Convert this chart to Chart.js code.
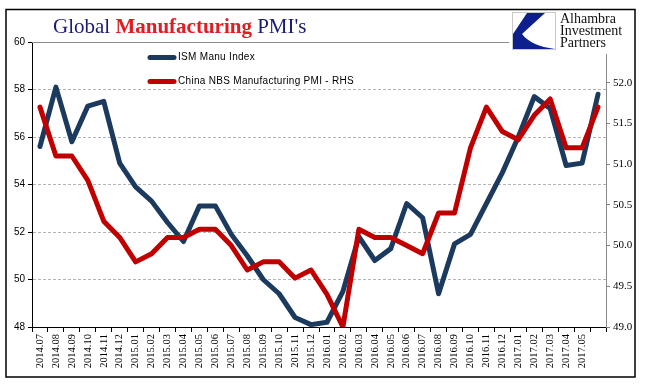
<!DOCTYPE html>
<html><head><meta charset="utf-8">
<script src="https://cdn.jsdelivr.net/npm/chart.js@4"></script>
<style>html,body{margin:0;padding:0;background:#fff;} #wrap{width:646px;height:392px;position:relative;}</style>
</head><body><div id="wrap"><canvas id="c" width="646" height="392"></canvas></div>
<script>
const categories = ['2014.07','2014.08','2014.09','2014.10','2014.11','2014.12',
  '2015.01','2015.02','2015.03','2015.04','2015.05','2015.06','2015.07','2015.08','2015.09','2015.10','2015.11','2015.12',
  '2016.01','2016.02','2016.03','2016.04','2016.05','2016.06','2016.07','2016.08','2016.09','2016.10','2016.11','2016.12',
  '2017.01','2017.02','2017.03','2017.04','2017.05','2017.06'];
const tickLabels = categories.slice(0, 35);
const ismValues = [55.6, 58.1, 55.8, 57.3, 57.5, 54.9, 53.9, 53.3, 52.4, 51.6, 53.1, 53.1,
  51.9, 51.0, 50.0, 49.4, 48.4, 48.1, 48.2, 49.5, 51.8, 50.8, 51.3, 53.2,
  52.6, 49.4, 51.5, 51.9, 53.2, 54.5, 56.0, 57.7, 57.2, 54.8, 54.9, 57.8];
const chinaValues = [51.7, 51.1, 51.1, 50.8, 50.3, 50.1, 49.8, 49.9, 50.1, 50.1, 50.2, 50.2,
  50.0, 49.7, 49.8, 49.8, 49.6, 49.7, 49.4, 49.0, 50.2, 50.1, 50.1, 50.0,
  49.9, 50.4, 50.4, 51.2, 51.7, 51.4, 51.3, 51.6, 51.8, 51.2, 51.2, 51.7];
const seriesNames = ['ISM Manu Index', 'China NBS Manufacturing PMI - RHS'];
const titleParts = [['Global ', false], ['Manufacturing', true], [' PMI\'s', false]];
const logoLines = ['Alhambra', 'Investment', 'Partners'];

const NAVY = '#1b3a5e', RED = '#c00000';

const decor = {
  id: 'decor',
  beforeDraw(chart) {
    const ctx = chart.ctx;
    ctx.save(); ctx.fillStyle = '#fff'; ctx.fillRect(0, 0, chart.width, chart.height); ctx.restore();
  },
  afterDraw(chart) {
    const ctx = chart.ctx, a = chart.chartArea;
    ctx.save();
    // top plot line
    ctx.strokeStyle = '#8c8c8c'; ctx.lineWidth = 1;
    ctx.beginPath(); ctx.moveTo(a.left, Math.round(a.top) + 0.5); ctx.lineTo(a.right, Math.round(a.top) + 0.5); ctx.stroke();
    // legend
    const ly = [57.5, 81.5];
    chart.data.datasets.forEach((ds, i) => {
      ctx.strokeStyle = ds.borderColor; ctx.lineWidth = 5; ctx.lineCap = 'round';
      ctx.beginPath(); ctx.moveTo(150, ly[i]); ctx.lineTo(174, ly[i]); ctx.stroke();
      ctx.fillStyle = '#000'; ctx.font = '10px "Liberation Sans"'; ctx.textBaseline = 'middle';
      try { ctx.letterSpacing = '0.3px'; } catch (e) {}
      ctx.fillText(ds.label, 178, ly[i]);
      try { ctx.letterSpacing = '0px'; } catch (e) {}
    });
    // title
    let x = 53;
    ctx.textBaseline = 'alphabetic';
    titleParts.forEach(([t, bold]) => {
      ctx.font = (bold ? 'bold ' : '') + '21px "Liberation Serif"';
      ctx.fillStyle = bold ? '#e31c23' : '#1a1a78';
      ctx.fillText(t, x, 33);
      x += ctx.measureText(t).width;
    });
    // logo
    ctx.fillStyle = '#fff'; ctx.fillRect(509, 11, 125, 43);
    ctx.strokeStyle = '#c8c8c8'; ctx.lineWidth = 1; ctx.strokeRect(512.5, 12.5, 43, 37);
    ctx.fillStyle = '#0d1f8c';
    ctx.beginPath();
    ctx.moveTo(527, 13); ctx.lineTo(545, 13); ctx.lineTo(522, 34);
    ctx.quadraticCurveTo(531, 46, 555, 49); ctx.lineTo(513, 49); ctx.lineTo(513, 34);
    ctx.closePath(); ctx.fill();
    ctx.fillStyle = '#111'; ctx.font = '14px "Liberation Serif"';
    logoLines.forEach((t, i) => ctx.fillText(t, 560, 23 + i * 12));
    // outer border
    ctx.strokeStyle = '#000'; ctx.lineWidth = 1.5;
    ctx.strokeRect(6, 9.5, 629, 367.5);
    ctx.restore();
  }
};

new Chart(document.getElementById('c'), {
  type: 'line',
  data: {
    labels: categories,
    datasets: [
      { label: seriesNames[0], data: ismValues, yAxisID: 'y', borderColor: NAVY, backgroundColor: NAVY,
        borderWidth: 5, pointRadius: 0, tension: 0, borderJoinStyle: 'round', borderCapStyle: 'round', order: 1 },
      { label: seriesNames[1], data: chinaValues, yAxisID: 'y2', borderColor: RED, backgroundColor: RED,
        borderWidth: 5, pointRadius: 0, tension: 0, borderJoinStyle: 'round', borderCapStyle: 'round', order: 0 }
    ]
  },
  options: {
    responsive: false, animation: false, devicePixelRatio: 1,
    layout: { padding: { top: 42, left: 0, right: 0, bottom: 0 } },
    plugins: { legend: { display: false }, tooltip: { enabled: false } },
    scales: {
      x: {
        offset: true,
        afterFit: s => { s.height = 65; },
        grid: { offset: true, drawOnChartArea: false, drawTicks: true, tickLength: 5, color: '#000', tickColor: '#000' },
        border: { color: '#000', width: 1 },
        ticks: { autoSkip: false, maxRotation: 90, minRotation: 90, padding: 2, color: '#000',
          font: { family: 'Liberation Serif', size: 10.5 },
          callback: (v, i) => tickLabels[i] !== undefined ? tickLabels[i] : '' }
      },
      y: {
        position: 'left', min: 48, max: 60,
        afterFit: s => { s.width = 32; },
        grid: { color: c => (c.tick && (c.tick.value === 48 || c.tick.value === 60)) ? 'rgba(0,0,0,0)' : '#b4b4b4',
          lineWidth: 1, tickLength: 4, tickColor: '#000' },
        border: { color: '#000', width: 1, dash: [3, 2] },
        ticks: { stepSize: 2, padding: 3, color: '#000', font: { family: 'Liberation Sans', size: 10 } }
      },
      y2: {
        position: 'right', min: 49, max: 52.5,
        afterFit: s => { s.width = 40; },
        grid: { drawOnChartArea: false, tickLength: 4, color: '#888', tickColor: '#888' },
        border: { color: '#888', width: 1 },
        ticks: { stepSize: 0.5, padding: 3, color: '#000', font: { family: 'Liberation Serif', size: 11 },
          callback: v => v > 52.01 ? '' : Number(v).toFixed(1) }
      }
    }
  },
  plugins: [decor]
});
</script>
</body></html>
